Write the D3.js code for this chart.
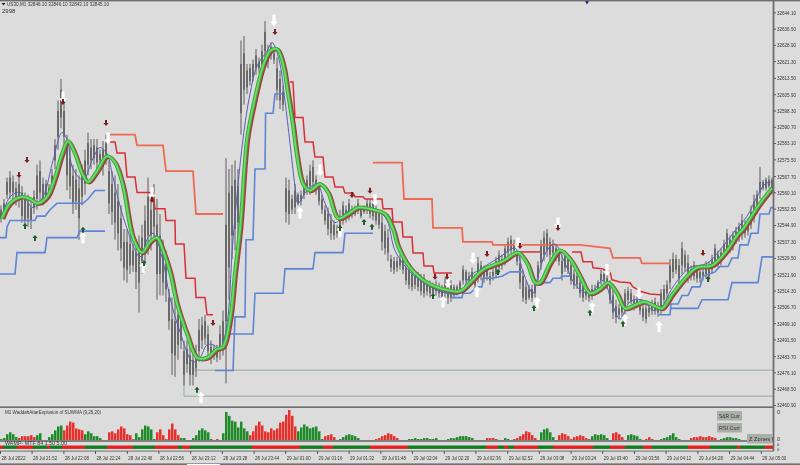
<!DOCTYPE html>
<html><head><meta charset="utf-8">
<script src="https://cdnjs.cloudflare.com/ajax/libs/d3/7.8.5/d3.min.js"></script>
<style>html,body{margin:0;padding:0;background:#dcdcdc;overflow:hidden}svg{display:block;filter:blur(0.3px)}text{font-family:"Liberation Sans",Arial,sans-serif;fill:#333}</style>
</head><body><svg id="c" width="800" height="465"></svg>
<script>
// ---------- data ----------
const priceTicks=[32644.10,32636.50,32628.90,32621.30,32613.50,32605.90,32598.30,32590.70,32583.10,32575.50,32567.70,32560.10,32552.50,32544.90,32537.30,32529.50,32521.90,32514.30,32506.70,32499.10,32491.50,32483.70,32476.10,32468.50,32460.90];
const timeLabels=["28 Jul 2022","28 Jul 21:52","28 Jul 22:08","28 Jul 22:24","28 Jul 22:40","28 Jul 22:56","28 Jul 23:12","28 Jul 23:28","28 Jul 23:44","29 Jul 01:00","29 Jul 01:16","29 Jul 01:32","29 Jul 01:48","29 Jul 02:04","29 Jul 02:20","29 Jul 02:36","29 Jul 02:52","29 Jul 03:08","29 Jul 03:24","29 Jul 03:40","29 Jul 03:56","29 Jul 04:12","29 Jul 04:28","29 Jul 04:44","29 Jul 05:00"];
const timeBars=[0,15.8,31.7,47.5,63.4,79.2,95.1,110.9,126.8,142.6,158.5,174.3,190.2,206,221.9,237.7,253.6,269.4,285.3,301.1,317,332.8,348.7,364.5,380.4];
const candleStep=1.5;
const highOff=[554,557,567,570,568,565,567,563,560,559,557,561,573,575,567,566,564,571,585,603,613,604,587,582,573,571,568,573,580,588,585,585,585,580,584,587,575,570,568,564,554,543,543,540,536,538,540,545,554,567,559,564,557,550,538,533,515,511,510,510,505,491,491,489,487,489,501,502,503,498,491,489,489,498,505,576,571,573,575,571,631,633,620,620,622,627,623,629,640,629,630,627,623,617,610,567,566,559,564,560,561,566,568,573,575,568,564,559,554,553,550,547,545,552,556,554,557,554,554,557,553,554,557,557,557,554,552,550,545,543,531,530,530,531,531,527,526,524,523,523,522,522,519,519,518,519,518,517,520,519,519,517,517,519,526,524,523,525,522,530,528,526,526,523,525,530,533,531,536,539,540,538,533,531,524,519,517,517,519,528,538,542,543,539,538,536,533,531,533,531,528,524,523,520,519,517,515,517,517,519,524,524,522,519,515,510,508,510,515,516,515,512,512,510,508,508,508,510,511,509,515,517,519,529,532,531,529,537,533,531,526,528,526,525,525,528,528,531,536,533,534,538,543,540,542,544,546,550,547,548,554,559,561,572,566,567,568,567];
const lowOff=[546,548,557,557,557,554,553,546,544,544,543,550,552,554,554,556,557,559,571,580,590,580,561,557,550,552,538,554,559,568,571,573,570,573,568,573,550,545,538,533,528,519,518,522,523,515,504,522,526,531,533,537,510,512,512,509,496,475,474,482,487,470,476,470,470,474,481,487,489,482,480,482,481,482,484,471,510,529,533,538,587,601,606,610,612,615,616,617,621,618,622,620,603,599,598,546,545,550,550,554,554,557,559,559,561,559,554,550,545,540,538,538,539,539,545,546,547,548,549,550,548,550,550,548,547,545,543,533,531,528,523,522,523,524,522,517,515,514,515,514,512,511,512,511,511,512,511,509,511,508,509,511,512,514,517,518,517,517,515,518,519,518,519,517,519,520,522,524,526,530,531,531,526,515,509,508,510,509,511,517,524,528,530,528,530,528,526,519,523,522,517,515,515,511,509,510,509,510,512,514,517,518,515,508,501,499,501,502,503,508,508,505,506,503,500,499,502,503,503,502,503,508,510,515,520,522,517,522,523,518,519,519,518,518,519,520,519,522,525,525,526,530,531,532,533,536,537,538,539,540,543,546,550,557,561,561,562,561];
const openOff=[548,550,559,560,560,557,556,549,547,548,547,553,557,560,557,558,559,562,575,586,595,586,568,563,555,556,548,558,564,573,575,576,574,575,572,577,555,551,546,541,534,525,524,526,526,523,518,528,533,540,540,544,522,522,518,515,500,485,484,489,491,475,480,475,475,478,486,491,492,486,483,484,483,486,489,500,525,540,543,546,597,608,609,612,614,618,618,620,626,621,624,622,608,603,601,551,550,552,553,555,556,559,561,563,565,561,556,552,547,543,541,540,541,542,547,548,550,550,550,552,549,551,552,550,549,547,545,537,534,532,525,524,525,526,524,519,517,516,517,516,514,513,514,513,513,514,513,511,513,511,511,512,513,515,519,519,519,519,517,521,521,520,521,519,521,522,525,526,529,532,533,533,528,518,511,510,511,511,513,520,527,531,533,531,532,530,528,522,525,524,519,517,517,513,511,512,511,512,513,515,519,519,517,510,504,502,503,504,506,510,509,507,508,505,502,501,504,505,505,504,506,510,513,518,523,524,520,526,525,522,521,521,520,520,521,522,521,524,528,527,528,532,534,534,535,538,540,541,541,542,545,549,552,560,562,562,563,562];
const closeOff=[552,555,565,567,565,562,564,560,557,555,553,558,568,570,564,564,562,568,582,598,608,598,581,576,568,566,562,569,575,583,581,582,581,578,580,583,570,564,560,556,548,537,537,536,533,532,532,539,547,558,552,557,545,540,532,527,511,501,500,503,501,486,487,484,482,485,496,498,500,494,488,487,487,494,500,545,560,563,566,563,620,625,617,618,620,624,621,626,635,626,628,625,618,613,607,562,561,557,561,559,559,564,566,570,572,566,562,557,552,550,547,545,543,549,554,552,555,552,553,555,552,553,555,555,555,552,550,546,542,539,529,528,528,529,529,525,524,522,521,521,520,520,517,517,516,517,516,515,518,516,517,516,516,518,524,523,521,523,520,527,526,524,524,521,523,528,531,529,534,537,538,536,531,527,521,516,515,515,517,526,535,539,541,537,536,534,531,528,531,529,526,522,521,518,517,515,513,515,515,518,522,522,520,517,512,507,506,508,513,514,513,510,510,508,506,506,506,508,509,507,513,515,517,526,529,529,526,534,531,527,524,526,524,523,523,526,526,529,534,531,532,536,541,538,540,542,544,547,545,546,551,556,559,565,565,566,566,566];
const priceBase=32000;
const maBars=[1,5,11,15,18.5,23.5,27.5,31,34,37.5,41,44,48.5,53.5,57.5,61.5,66.5,71,75,78.5,81.5,85,88.5,93.5,98.5,103.5,108.5,111.5,115,117.5,120,123.5,126.5,131.5,135,138.5,141.5,144,146.5,148.5,151.5,155,160,164,169,174,179,186.5,192.5,196.5,199,205,213.5,221.5,230,235,241.5,251.5,259,263.5,267.5,270,275,280,285,290,295,300,304,308.5,312.5,318.5,322.5,327.5,331,336.5,343.5,348.5,356,363.5,368.5,371.5,380,386];
const maPrice=[32548,32555,32558,32557,32555,32558,32567,32578,32584,32578,32569,32565,32570,32577,32574,32563,32539,32532,32537,32539,32533,32523,32508,32494,32483,32483,32487,32488,32501,32523,32543,32585,32600,32619,32626,32627,32620,32606,32591,32577,32564,32561,32564,32560,32548,32550,32553,32552,32550,32543,32535,32525,32518,32515,32514,32518,32524,32528,32532,32527,32518,32518,32527,32533,32529,32521,32513,32515,32518,32513,32506,32508,32509,32507,32506,32513,32521,32525,32526,32533,32540,32543,32555,32562];
const fastBars=[1,5,10,16.5,21.5,26.5,31,33.5,36.5,41.5,46.5,50,53.5,56.5,62.5,70,74,76.5,81,85,90,96.5,100,103.5,106.5,110,113.5,116.5,121.5,125,128.5,133.5,136,137.5,140,142.5,145,147.5,149,153.5,158.5,162.5,167.5,173.5,180,188.5,193.5,197.5,205,215,223.5,230,235,241.5,250,257.5,261.5,266.5,269,273.5,277.5,282.5,288.5,295,301.5,306.5,310,315,321,326.5,331,336.5,345,353.5,361.5,366.5,373.5,378.5,382.5,386];
const fastPrice=[32549,32558,32560,32553,32558,32575,32588,32585,32571,32566,32576,32581,32578,32567,32546,32530,32539,32541,32530,32511,32495,32481,32483,32489,32489,32487,32499,32538,32585,32606,32619,32626,32630,32628,32620,32603,32583,32563,32555,32561,32564,32555,32546,32551,32553,32552,32547,32533,32523,32516,32513,32513,32521,32525,32530,32534,32523,32513,32521,32533,32536,32527,32516,32513,32519,32507,32501,32509,32510,32505,32507,32516,32525,32527,32535,32541,32549,32558,32564,32565];
const blueSteps=[
[[0,32539],[3,32539],[3.5,32544],[5,32547],[17.5,32547],[18.5,32549],[22.5,32549],[25,32552],[28.5,32555],[41.5,32555],[44,32557],[47.5,32561],[52.5,32561]],
[[0,32522],[7.5,32522],[8.5,32532],[22.5,32532],[23.5,32539],[38.5,32539],[40,32542],[52.5,32542]],
[[107.5,32477],[116.5,32477],[117.5,32502],[122.5,32502],[123,32538],[126.5,32538],[127.5,32571],[132.5,32571],[132.8,32597],[136.5,32597],[137.5,32606],[141.5,32606]],
[[115,32494],[126.5,32494],[127.5,32513],[141.5,32513],[142.5,32524.4],[156.5,32524.4],[157.5,32532],[171.5,32532],[172.5,32541],[186.5,32541]],
[[226,32511],[231,32511],[231.5,32513],[235,32513],[238.5,32516],[241,32516],[241.5,32520],[246,32520],[251,32521],[255,32523],[261,32523]],
[[271,32518],[275,32518],[276.5,32520],[280,32520],[281,32521],[285,32521]],
[[329,32503],[335,32503],[335.5,32508],[339,32508],[341,32512],[344,32512],[346,32516],[350,32516],[351.5,32521],[357.5,32523],[360,32525.5],[364,32525.5],[366,32529.5],[369,32529.5],[370,32535.6],[374,32535.6],[375.5,32541],[379,32541],[380,32550],[384.5,32550],[385.5,32553],[386.5,32553]],
[[335,32506],[349,32506],[351,32510],[364,32510],[366,32518],[379,32518],[381,32530],[386.5,32530]]
];
const salmonSteps=[
[[55,32587],[67.5,32587],[68.5,32582],[81.5,32582],[83,32570],[96.5,32570],[98,32550],[111.5,32550]],
[[186.5,32574],[201,32574],[202,32557],[216,32557],[216.5,32543.5],[231,32543.5],[231.5,32537],[246,32537],[246.5,32535.6],[290,32535.6],[305,32534],[306.5,32529.5],[320,32529.5],[321,32527],[335,32527]]
];
const redSteps=[
[[55,32583.6],[57.5,32583.6],[58.5,32578.5],[62.5,32578.5],[63.5,32567.3],[67.5,32567.3],[68.5,32560],[76.5,32560],[77.5,32552.4],[82.5,32552.4],[83,32547],[87.5,32547],[87.7,32536],[92,32536],[93,32520],[97.5,32520],[98,32511],[102.5,32511],[103.5,32503],[106.5,32503]],
[[145,32611.6],[146.5,32611.6],[147.5,32595],[151.5,32595],[152.5,32583.6],[156.5,32583.6],[157.5,32576.6],[161.5,32576.6],[162.5,32567.3],[166.5,32567.3],[167.5,32562.6],[171.5,32562.6],[172.5,32559.8],[176.5,32559.8],[177.5,32558],[181.5,32558],[182.5,32557],[191,32557],[191.5,32552.4],[196,32552.4],[196.5,32546.3],[201,32546.3],[201.5,32539.3],[206,32539.3],[206.5,32531.8],[211.5,32531.8],[212,32525.8],[216.5,32525.8],[217,32522.5],[226,32522.5]],
[[259,32532.3],[270,32532.3]],
[[286,32532.3],[290.5,32532.3],[291.5,32527.7],[296,32527.7],[296.5,32524.9],[301,32524.5],[305,32523],[306,32519.3],[310,32518.3],[315,32517.9],[316.5,32516],[321,32513.7],[325,32512.7],[330,32512.3]]
];
const whiteDown=[[137,32640.5],[31.5,32604.6],[54,32585.5],[76,32559.8],[160,32570.5],[187.5,32556.6],[236.5,32529.5],[259,32536.5],[224,32518.3],[303.5,32524],[319.5,32513.2],[279,32545.8]];
const whiteUp=[[41.5,32538.8],[71.5,32524.9],[100.5,32464.3],[170,32541.6],[150,32550.5],[221.5,32509],[238.5,32513.7],[268.5,32508.5],[296,32506.2],[312.5,32500.6],[329.5,32497.4]];
const darkDown=[[13.5,32575.2],[9.5,32568.2],[31.5,32602.2],[53,32592.5],[76,32556.6],[106.5,32499.2],[137.5,32634.9],[176,32558.9],[185,32560.8],[217.5,32520.7],[223.5,32520.7],[243.5,32531.4],[260,32535.1],[279,32543.5],[351.5,32531.8]];
const darkUp=[[12.5,32544.4],[17.5,32538.8],[41.5,32542.6],[72,32527.2],[98.5,32468],[170,32543.5],[182,32546.3],[186,32544],[216.5,32511.8],[249,32523],[267,32506.2],[295,32503.9],[311.5,32498.8],[354,32519.7]];
const levelPrices=[32477.2,32465];
const levelStartBar=[96,92];
const histValues=[2,3,7,9,7,4,-3,-5,-5,-5,-6,-4,6,8,1,1,4,7,11,15,16,-11,-16,-20,-19,-13,-12,-11,7,10,8,5,5,3,1,1,-9,-10,-8,-12,-15,-13,-7,-6,-2,8,4,12,16,15,12,2,-9,-12,-6,-2,-12,-18,-12,-6,3,3,1,1,3,6,11,13,11,9,2,1,-2,-1,8,30,26,21,20,14,20,13,10,-6,-10,-16,-20,-16,-10,-9,-13,-11,-13,-19,-20,-27,-32,-26,-15,10,14,17,15,13,14,15,10,2,-5,-6,-7,-4,1,2,4,6,7,6,5,3,1,1,1,1,1,-2,-3,-5,-6,-8,-7,-5,-3,-1,-1,1,2,2,3,2,2,3,3,2,2,3,1,1,1,2,3,3,4,5,5,5,4,3,1,1,1,1,-3,-3,-3,-2,1,1,3,2,1,-2,-3,-5,-7,-10,-9,-6,-3,1,9,12,13,9,4,1,-6,-8,-7,-5,-2,-4,-5,-6,-5,-3,-2,5,7,6,7,6,3,1,-8,-9,-7,-4,1,6,7,6,5,2,1,-2,-4,-2,1,1,2,3,4,6,8,4,2,1,1,1,-3,-4,-4,-5,-4,-4,-5,-4,-3,-1,2,3,4,4,3,3,2,1,1,1,-1,-1,3,3,2,-3,-3,-4];
const stripEnds=[1.5,8.5,16.5,23.5,25,31,42.5,53.5,66.5,68.5,77.5,89,91,95,126,150,161.5,166.5,185,204,243,249,252,254,257,269,276.5,296.5,305,312.5,321.5,326,329,344,355,368.5,370,373.5,382.5,386.5];
const stripKinds=["r","g","r","g","r","g","r","g","r","g","g","r","g","r","g","r","g","r","g","r","g","r","g","r","g","r","g","r","g","r","g","r","g","g","r","g","r","g","g","r"];
const headerText="US30,M1  32846.10 32846.10 32843.10 32845.10";
const paneTitle="M1 WaddahAttarExplosion of SUWMA (9,26,20)";
const stripTitle="WAMP- MTF 84   1.50 5.00";
const buttonLabels=["S&R Curr","RSI Curr","Z Zones"];

// ---------- scales ----------
const svg=d3.select("#c");
const x=d3.scaleLinear().domain([0,386.5]).range([0,773]);
const y=d3.scaleLinear().domain([32460.9,32644.1]).range([405,12.3]);
const yHist=d3.scaleLinear().domain([0,32]).range([441,410]);
const fit=(sel,w)=>sel.attr("textLength",w).attr("lengthAdjust","spacingAndGlyphs");

svg.append("rect").attr("width",800).attr("height",465).attr("fill","#dcdcdc");
svg.append("defs").append("clipPath").attr("id","plot").append("rect").attr("x",0).attr("y",2).attr("width",773).attr("height",404);
const plot=svg.append("g").attr("clip-path","url(#plot)");

// ---------- levels ----------
const levelColor="#a3b3a6";
plot.selectAll(".lvl").data(levelPrices).join("line").attr("x1",(d,i)=>x(levelStartBar[i])).attr("x2",773)
  .attr("y1",d=>y(d)).attr("y2",d=>y(d)).attr("stroke",levelColor).attr("stroke-width",1.2);
plot.append("line").attr("x1",x(92)).attr("x2",x(92)).attr("y1",y(levelPrices[0])).attr("y2",y(levelPrices[1])).attr("stroke",levelColor).attr("stroke-width",1.2);

// ---------- candles ----------
const candles=highOff.map((h,i)=>({b:i*candleStep,h,l:lowOff[i],o:openOff[i],c:closeOff[i]}));
const P=v=>y(priceBase+v);
plot.selectAll(".w").data(candles).join("line").attr("x1",d=>x(d.b)+1).attr("x2",d=>x(d.b)+1)
  .attr("y1",d=>P(d.h)).attr("y2",d=>P(d.l)).attr("stroke","#5c5c5c").attr("stroke-width",1);
plot.selectAll(".b").data(candles).join("rect").attr("x",d=>x(d.b)).attr("width",2)
  .attr("y",d=>Math.min(P(d.o),P(d.c))).attr("height",d=>Math.abs(P(d.o)-P(d.c))).attr("fill","#6a6a6a");

// ---------- step lines ----------
const ln=d3.line().x(d=>x(d[0])).y(d=>y(d[1]));
const drawSteps=(data,col,w)=>plot.append("g").selectAll("path").data(data).join("path").attr("d",ln).attr("fill","none").attr("stroke",col).attr("stroke-width",w);
drawSteps(salmonSteps,"#ef6a52",1.8);
drawSteps(blueSteps,"#5c85d6",1.6);
drawSteps(redSteps,"#d92f36",1.5);

// ---------- moving averages ----------
const curve=d3.line().x(d=>x(d[0])).y(d=>y(d[1])).curve(d3.curveCatmullRom.alpha(.5));
const ma=d3.zip(maBars,maPrice), fast=d3.zip(fastBars,fastPrice);
plot.append("path").attr("d",curve(fast)).attr("fill","none").attr("stroke","#5561b8").attr("stroke-width",1);
plot.append("path").attr("d",curve(ma)).attr("fill","none").attr("stroke","#a8393f").attr("stroke-width",3.6).attr("transform","translate(1.4,0.9)");
plot.append("path").attr("d",curve(ma)).attr("fill","none").attr("stroke","#3fa642").attr("stroke-width",3.8);
plot.append("path").attr("d",curve(ma)).attr("fill","none").attr("stroke","#66e060").attr("stroke-width",1.8);

// ---------- arrows ----------
const bigUp="M0,-6L4,-1.6L1.6,-1.6L1.6,5.5L-1.6,5.5L-1.6,-1.6L-4,-1.6Z";
const bigDown="M0,6L4,1.6L1.6,1.6L1.6,-5.5L-1.6,-5.5L-1.6,1.6L-4,1.6Z";
const smallUp="M0,-3L2.6,0L1,0L1,3L-1,3L-1,0L-2.6,0Z";
const smallDown="M0,3L2.6,0L1,0L1,-3L-1,-3L-1,0L-2.6,0Z";
const mark=(data,p,f)=>plot.append("g").selectAll("path").data(data).join("path").attr("d",p).attr("fill",f)
  .attr("transform",d=>`translate(${x(d[0])},${y(d[1])})`);
mark(whiteDown,bigDown,"#fff");mark(whiteUp,bigUp,"#fff");
mark(darkDown,smallDown,"#7a1f22");mark(darkUp,smallUp,"#1c5f2a");
svg.append("path").attr("d",d3.symbol(d3.symbolDiamond,14)()).attr("fill","#1a1a8c").attr("transform","translate(587,1)");

// ---------- price axis ----------
const axR=svg.append("g").attr("transform","translate(773,0)").call(d3.axisRight(y).tickValues(priceTicks).tickFormat(d3.format(".2f")).tickSize(3).tickPadding(1));
axR.select(".domain").remove();
axR.selectAll("line").attr("stroke","#555");
axR.selectAll("text").attr("x",0).attr("font-size",6).attr("fill","#333").style("font-family",'"Liberation Sans",sans-serif')
  .attr("transform","translate(4,0) scale(0.76,1)");

// ---------- histogram pane ----------
const hx=i=>x(i*candleStep);
svg.append("g").selectAll("rect").data(histValues).join("rect").attr("x",(d,i)=>hx(i)).attr("width",2.5)
  .attr("y",d=>yHist(Math.abs(d))).attr("height",d=>yHist(0)-yHist(Math.abs(d))).attr("fill",d=>d>=0?"#1e8a28":"#e5302c");
svg.append("rect").attr("x",0).attr("y",440).attr("width",773).attr("height",2).attr("fill","#808080");
stripEnds.forEach((e,i)=>{const s=i?stripEnds[i-1]:0;
  svg.append("rect").attr("x",x(s)).attr("width",x(e)-x(s)).attr("y",445.5).attr("height",3.4).attr("fill",stripKinds[i]==="r"?"#e5201f":"#0f7d20");});
fit(svg.append("text").attr("x",5).attr("y",445).attr("font-size",5.4).attr("fill","#444").text(stripTitle),62);
fit(svg.append("text").attr("x",5).attr("y",414).attr("font-size",6).text(paneTitle),96);
[[717,411,"#5d8a62"],[717,423,"#5d8a62"],[747,434,"#2f6b3a"]].forEach((b,i)=>{
  svg.append("rect").attr("x",b[0]).attr("y",b[1]).attr("width",25).attr("height",9.5).attr("fill","#a9aea9");
  fit(svg.append("text").attr("x",b[0]+2).attr("y",b[1]+7).attr("font-size",6).attr("fill",b[2]).text(buttonLabels[i]),21);});
[[411.5,5.6],[438.5,5.6],[444.6,4.4],[449.6,4.4]].forEach(t=>svg.append("text").attr("x",777).attr("y",t[0]+t[1]*.36).attr("font-size",t[1]).text("0"));

// ---------- frames ----------
const fr="#6e6e6e";
svg.append("rect").attr("x",0).attr("y",0).attr("width",800).attr("height",1.4).attr("fill",fr);
svg.append("rect").attr("x",772.6).attr("y",0).attr("width",1.8).attr("height",451).attr("fill",fr);
svg.append("rect").attr("x",0).attr("y",406.4).attr("width",774).attr("height",1.6).attr("fill",fr);
svg.append("rect").attr("x",0).attr("y",450.6).attr("width",774).attr("height",1).attr("fill",fr);
svg.append("rect").attr("x",0).attr("y",463.4).attr("width",800).attr("height",1.6).attr("fill","#6e6e6e");
svg.append("rect").attr("x",187).attr("y",464).attr("width",33).attr("height",1).attr("fill","#fff");

// ---------- time axis ----------
const axB=svg.append("g").attr("transform","translate(0,451)").call(d3.axisBottom(x).tickValues(timeBars).tickFormat((d,i)=>timeLabels[i]).tickSize(3).tickPadding(1));
axB.select(".domain").remove();
axB.selectAll("line").attr("stroke","#555");
fit(axB.selectAll("text").attr("font-size",6).attr("text-anchor","start").attr("dx",1).attr("y",4.5).style("font-family",'"Liberation Sans",sans-serif'),24);

// ---------- header ----------
svg.append("path").attr("d","M1.5,3L5.5,3L3.5,5.5Z").attr("fill","#222");
fit(svg.append("text").attr("x",7).attr("y",6.4).attr("font-size",6).text(headerText),102);
svg.append("text").attr("x",2).attr("y",12.8).attr("font-size",6).text("2998");
</script></body></html>
